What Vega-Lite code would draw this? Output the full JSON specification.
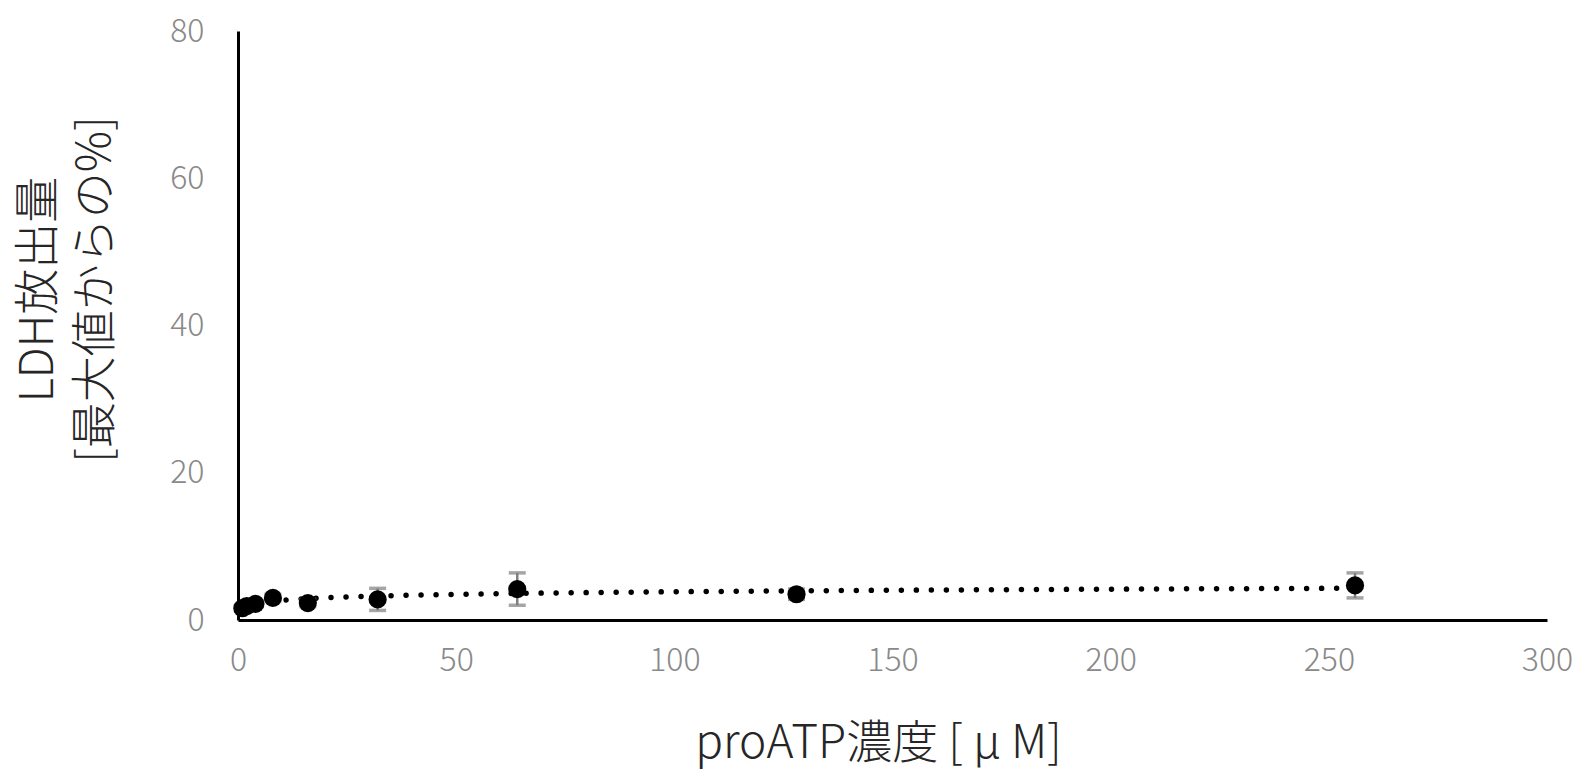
{
  "$schema": "https://vega.github.io/schema/vega-lite/v6.json",
  "width": 1309,
  "height": 589,
  "autosize": {"type": "none"},
  "padding": {"left": 238, "top": 31, "right": 33, "bottom": 151},
  "background": "white",
  "config": {
    "view": {"stroke": null},
    "font": "Noto Sans CJK JP"
  },
  "data": {
    "values": [
      {"conc": 1, "ldh": 1.6, "lo": 1.2, "hi": 2.0},
      {"conc": 2, "ldh": 1.9, "lo": 1.5, "hi": 2.3},
      {"conc": 4, "ldh": 2.2, "lo": 1.8, "hi": 2.6},
      {"conc": 8, "ldh": 3.0, "lo": 2.5, "hi": 3.5},
      {"conc": 16, "ldh": 2.3, "lo": 1.8, "hi": 2.8},
      {"conc": 32, "ldh": 2.8, "lo": 1.3, "hi": 4.3},
      {"conc": 64, "ldh": 4.2, "lo": 2.0, "hi": 6.4},
      {"conc": 128, "ldh": 3.5, "lo": 2.8, "hi": 4.2},
      {"conc": 256, "ldh": 4.7, "lo": 3.0, "hi": 6.4}
    ]
  },
  "encoding": {
    "x": {
      "field": "conc",
      "type": "quantitative",
      "scale": {"domain": [0, 300], "nice": false},
      "axis": {
        "title": "proATP濃度 [ μ M]",
        "values": [0, 50, 100, 150, 200, 250, 300],
        "grid": false,
        "ticks": false,
        "domainColor": "#000000",
        "domainWidth": 3,
        "labelFont": "Noto Sans CJK JP",
        "labelFontWeight": 300,
        "labelFontSize": 32,
        "labelColor": "#898989",
        "labelPadding": 25,
        "labelFlush": false,
        "labelOverlap": false,
        "titleFont": "Noto Sans CJK JP",
        "titleFontWeight": 300,
        "titleFontSize": 46,
        "titleColor": "#262626",
        "titleX": 640,
        "titleY": 137,
        "titleBaseline": "alphabetic"
      }
    },
    "y": {
      "field": "ldh",
      "type": "quantitative",
      "scale": {"domain": [0, 80], "nice": false},
      "axis": {
        "title": ["LDH放出量", "[最大値からの%]"],
        "values": [0, 20, 40, 60, 80],
        "grid": false,
        "ticks": false,
        "domainColor": "#000000",
        "domainWidth": 3,
        "labelFont": "Noto Sans CJK JP",
        "labelFontWeight": 300,
        "labelFontSize": 32,
        "labelColor": "#898989",
        "labelPadding": 34,
        "labelFlush": false,
        "labelOverlap": false,
        "titleFont": "Noto Sans CJK JP",
        "titleFontWeight": 300,
        "titleFontSize": 46,
        "titleColor": "#262626",
        "titleLineHeight": 57,
        "titleAngle": -90,
        "titleAlign": "center",
        "titleBaseline": "bottom",
        "titleX": -176,
        "titleY": 258
      }
    }
  },
  "layer": [
    {
      "transform": [{"regression": "ldh", "on": "conc", "method": "log"}],
      "mark": {
        "type": "line",
        "color": "#000000",
        "strokeWidth": 5.5,
        "strokeCap": "round",
        "strokeDash": [0.01, 15]
      }
    },
    {
      "mark": {
        "type": "errorbar",
        "ticks": {"size": 17, "thickness": 3.5, "color": "#7f7f7f"},
        "rule": {"strokeWidth": 2.5, "color": "#7f7f7f"}
      },
      "encoding": {
        "y": {"field": "lo", "type": "quantitative"},
        "y2": {"field": "hi"}
      }
    },
    {
      "mark": {"type": "point", "shape": "circle", "filled": true, "color": "#000000", "opacity": 1, "size": 330}
    }
  ]
}
